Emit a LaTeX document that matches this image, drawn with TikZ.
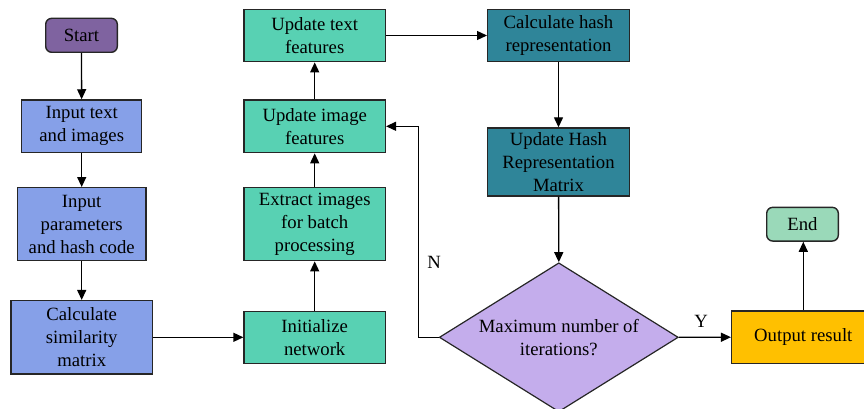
\documentclass[tikz,border=0pt]{standalone}
\usepackage{fontspec}
\setmainfont{Liberation Serif}
\usetikzlibrary{arrows.meta,shapes.geometric}

\definecolor{startfill}{HTML}{7F63A0}
\definecolor{inputfill}{HTML}{86A0E8}
\definecolor{netfill}{HTML}{58D1B3}
\definecolor{hashfill}{HTML}{2F8599}
\definecolor{decfill}{HTML}{C4ADEC}
\definecolor{outfill}{HTML}{FFC000}
\definecolor{endfill}{HTML}{9AD9B9}
\definecolor{edge}{HTML}{262626}

\tikzset{
  box/.style={draw=edge, line width=1.4pt, inner sep=0pt, align=center,
    font=\fontsize{18.7}{23}\selectfont},
  terminal/.style={box, rounded corners=6pt},
  decision/.style={draw=edge, line width=1.2pt, diamond, aspect=1.6, inner sep=0pt,
    align=center, fill=decfill, minimum width=239pt, minimum height=149pt,
    font=\fontsize{18.7}{23}\selectfont},
  flow/.style={line width=1.3pt, -{Triangle[length=10pt,width=9pt]}},
  tag/.style={font=\fontsize{18.7}{23}\selectfont}
}

\begin{document}
\begin{tikzpicture}[x=1pt, y=-1pt]
\useasboundingbox (0,0) rectangle (864,409);

% left column: start and input stages
\node[terminal, fill=startfill, minimum width=71.6pt, minimum height=34pt] (start) at (81.5,35.3) {Start};
\node[box, fill=inputfill, minimum width=120pt, minimum height=52.7pt] (intext) at (81.7,126.3) {Input text\\and images};
\node[box, fill=inputfill, minimum width=128.7pt, minimum height=73pt] (inparam) at (81.7,224.2) {Input\\parameters\\and hash code};
\node[box, fill=inputfill, minimum width=141.3pt, minimum height=73.3pt] (simmat) at (81.7,337.3) {Calculate\\similarity\\matrix};

% middle column: network stages
\node[box, fill=netfill, minimum width=141.3pt, minimum height=52pt] (initnet) at (314.7,337.3) {Initialize\\network};
\node[box, fill=netfill, minimum width=141.3pt, minimum height=73pt] (extract) at (314.7,224.2) {Extract images\\for batch\\processing};
\node[box, fill=netfill, minimum width=141.3pt, minimum height=52.7pt] (updimg) at (314.7,126.3) {Update image\\features};
\node[box, fill=netfill, minimum width=141.3pt, minimum height=52.4pt] (updtxt) at (314.7,35.5) {Update text\\features};

% right column: hashing and decision
\node[box, fill=hashfill, minimum width=141.6pt, minimum height=52.4pt] (calchash) at (558.5,35.5) {Calculate hash\\representation};
\node[box, fill=hashfill, minimum width=141.6pt, minimum height=68pt] (updhash) at (558.5,162) {Update Hash\\Representation\\Matrix};
\node[decision] (maxiter) at (558.8,337.3) {Maximum number of\\iterations?};
\node[box, fill=outfill, minimum width=143.3pt, minimum height=52.3pt] (output) at (803.3,337.2) {Output result};
\node[terminal, fill=endfill, minimum width=71.6pt, minimum height=33.7pt] (finish) at (802.5,224.2) {End};

\coordinate (loopback) at (418.7,337.3);

% connectors
\draw[flow] (start) -- (intext);
\draw[flow] (intext) -- (inparam);
\draw[flow] (inparam) -- (simmat);
\draw[flow] (simmat) -- (initnet);
\draw[flow] (initnet) -- (extract);
\draw[flow] (extract) -- (updimg);
\draw[flow] (updimg) -- (updtxt);
\draw[flow] (updtxt) -- (calchash);
\draw[flow] (calchash) -- (updhash);
\draw[flow] (updhash) -- (maxiter.north);
\draw[flow] (maxiter.west) -- (loopback) |- (updimg.east);
\draw[flow] (maxiter.east) -- (output.west);
\draw[flow] (output.north) -- (output.north |- finish.south);

% branch labels
\node[tag] (nolabel) at (434,262) {N};
\node[tag] (yeslabel) at (701,321.7) {Y};
\end{tikzpicture}
\end{document}
